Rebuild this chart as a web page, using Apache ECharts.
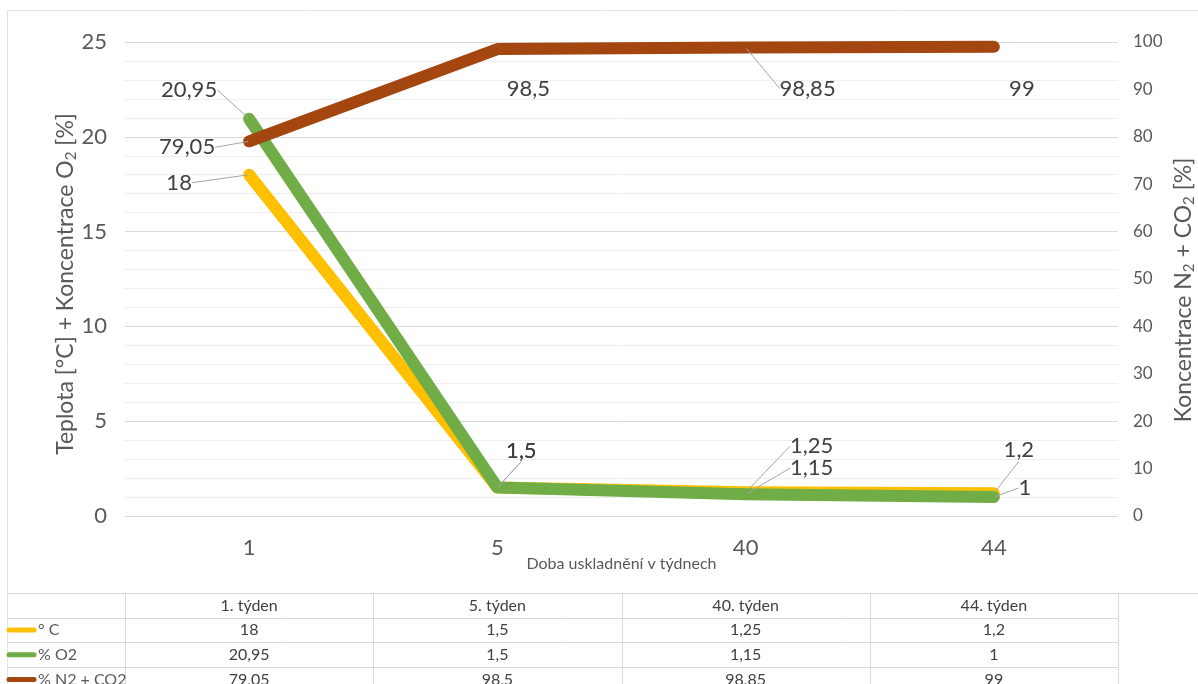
<!DOCTYPE html>
<html><head><meta charset="utf-8">
<script src="https://cdn.jsdelivr.net/npm/echarts@6/dist/echarts.min.js"></script>
<style>html,body{margin:0;padding:0;background:#fff}#c{width:1198px;height:684px}</style>
</head><body><div id="c"></div>
<script>
// ---- data ----
const categories = ['1', '5', '40', '44'];
const tableHeaders = ['1. týden', '5. týden', '40. týden', '44. týden'];
const seriesNames = ['° C', '% O2', '% N2 + CO2'];
const tempC = [18, 1.5, 1.25, 1.2];
const o2 = [20.95, 1.5, 1.15, 1];
const n2co2 = [79.05, 98.5, 98.85, 99];
const leftAxis = { min: 0, max: 25, interval: 5 };
const rightAxis = { min: 0, max: 100, interval: 10 };
const xAxisName = 'Doba uskladnění v týdnech';

// ---- styles ----
const colors = ['#FFC000', '#70AD47', '#A3460F'];
const FONT = 'Lato, "Noto Sans", sans-serif';
const fmt = v => String(v).replace('.', ',');

// label offsets (layout only)
const offsets = [
  [[-70, 8], [24, -37], [66, -46], [25, -43]],
  [[-60, -29], [24, -37], [66, -26], [31, -9]],
  [[-62, 6], [31, 40], [62, 41], [28, 42]]
];
const leader = [
  [true, true, true, true],
  [true, true, true, true],
  [true, false, true, false]
];
const seriesValues = [tempC, o2, n2co2];

const chart = echarts.init(document.getElementById('c'), null, { renderer: 'canvas' });

function makeSeries(i) {
  return {
    name: seriesNames[i],
    type: 'line',
    yAxisIndex: i === 2 ? 1 : 0,
    data: seriesValues[i].map((v, j) => ({ value: v, labelLine: { show: leader[i][j] } })),
    symbol: 'circle',
    symbolSize: 2,
    itemStyle: { color: colors[i] },
    lineStyle: { color: colors[i], width: 12, cap: 'round', join: 'round' },
    label: {
      show: true, position: 'inside', color: '#404040', fontSize: 22, fontFamily: FONT,
      formatter: p => fmt(p.value)
    },
    labelLine: { show: true, lineStyle: { color: '#a6a6a6', width: 1 } },
    labelLayout: p => ({ dx: offsets[i][p.dataIndex][0], dy: offsets[i][p.dataIndex][1] }),
    emphasis: { disabled: true },
    z: 2 + i
  };
}

const nameRich = {
  a: { color: '#595959', fontSize: 23, fontFamily: FONT },
  s: { color: '#595959', fontSize: 15, fontFamily: FONT, padding: [12, 0, 0, 0] }
};

const option = {
  animation: false,
  backgroundColor: '#fff',
  grid: { left: 125, right: 80, top: 42, bottom: 168, containLabel: false, outerBoundsMode: 'none' },
  xAxis: {
    type: 'category', data: categories, boundaryGap: true,
    axisLine: { show: false }, axisTick: { show: false },
    axisLabel: { color: '#595959', fontSize: 22, fontFamily: FONT, margin: 21 },
    name: xAxisName, nameLocation: 'middle', nameGap: 40, nameMoveOverlap: false,
    nameTextStyle: { color: '#595959', fontSize: 16, fontFamily: FONT }
  },
  yAxis: [
    {
      type: 'value', min: leftAxis.min, max: leftAxis.max, interval: leftAxis.interval,
      axisLine: { show: false }, axisTick: { show: false },
      axisLabel: { color: '#595959', fontSize: 22, fontFamily: FONT, margin: 18 },
      splitLine: { lineStyle: { color: '#d9d9d9', width: 1 } },
      minorTick: { show: false, splitNumber: 5 },
      minorSplitLine: { show: true, lineStyle: { color: '#eeeeee', width: 1 } },
      name: '{a|Teplota [°C] + Koncentrace O}{s|2}{a| [%]}',
      nameLocation: 'middle', nameRotate: 90, nameGap: 46, nameMoveOverlap: false,
      nameTextStyle: { rich: nameRich, padding: [0, 10, 0, 0] }
    },
    {
      type: 'value', min: rightAxis.min, max: rightAxis.max, interval: rightAxis.interval,
      position: 'right',
      axisLine: { show: false }, axisTick: { show: false },
      axisLabel: { color: '#595959', fontSize: 17, fontFamily: FONT, margin: 15 },
      splitLine: { show: false },
      name: '{a|Koncentrace N}{s|2}{a| + CO}{s|2}{a| [%]}',
      nameLocation: 'middle', nameRotate: 90, nameGap: 52, nameMoveOverlap: false,
      nameTextStyle: { rich: nameRich, padding: [0, 22, 0, 0] }
    }
  ],
  series: [makeSeries(0), makeSeries(1), makeSeries(2)]
};
chart.setOption(option);

// ---- data table under the chart, aligned to the category axis ----
const xs = categories.map((c, i) => chart.convertToPixel({ xAxisIndex: 0 }, i));
const bw = xs[1] - xs[0];
const leftEdge = xs[0] - bw / 2;
const rightEdge = xs[xs.length - 1] + bw / 2;
const tableTop = 593, rowH = 24.7, frameLeft = 7, W = 1198, H = 684;
const borderColor = '#d9d9d9';
const g = [];
const line = (x1, y1, x2, y2, c) => g.push({ type: 'line', silent: true, shape: { x1, y1, x2, y2 }, style: { stroke: c || borderColor, lineWidth: 1 } });
// outer frame
line(frameLeft + 0.5, 10.5, W, 10.5, '#e3e3e3');
line(frameLeft + 0.5, 10.5, frameLeft + 0.5, H, '#e3e3e3');
line(frameLeft, tableTop + 0.5, W, tableTop + 0.5);
for (let r = 1; r <= 3; r++) line(frameLeft, Math.round(tableTop + r * rowH) + 0.5, rightEdge, Math.round(tableTop + r * rowH) + 0.5);
const vEdges = [leftEdge].concat(xs.map(x => x + bw / 2));
vEdges.forEach(x => line(Math.round(x) + 0.5, tableTop, Math.round(x) + 0.5, H));
const txt = (text, x, y, align) => g.push({
  type: 'text', silent: true,
  style: { text, x, y, fill: '#404040', font: '16px ' + FONT, align: align || 'center', verticalAlign: 'middle', textAlign: align || 'center', textVerticalAlign: 'middle' }
});
tableHeaders.forEach((h, i) => txt(h, xs[i], tableTop + rowH / 2));
seriesValues.forEach((vals, r) => {
  const cy = tableTop + (r + 1.5) * rowH;
  g.push({ type: 'line', silent: true, shape: { x1: frameLeft + 2, y1: cy, x2: 34, y2: cy }, style: { stroke: colors[r], lineWidth: 5, lineCap: 'round' } });
  g.push({ type: 'text', silent: true, style: { text: seriesNames[r], x: 38, y: cy, fill: '#595959', font: '16px ' + FONT, align: 'left', verticalAlign: 'middle', textAlign: 'left', textVerticalAlign: 'middle' } });
  vals.forEach((v, i) => txt(fmt(v), xs[i], cy));
});
chart.setOption({ graphic: { elements: g } });
</script>
</body></html>
